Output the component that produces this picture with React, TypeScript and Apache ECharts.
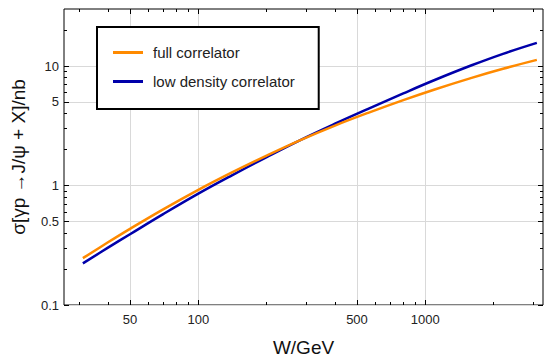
import React, { useEffect, useRef } from 'react';
import * as echarts from 'echarts';

// W in GeV
const W = [31, 40, 50, 70, 100, 140, 200, 280, 400, 560, 800, 1100, 1600, 2200, 3100];
// sigma in nb
const fullCorrelator = [0.2465, 0.3347, 0.4338, 0.6318, 0.9204, 1.281, 1.781, 2.39, 3.176, 4.058, 5.186, 6.364, 7.962, 9.484, 11.26];
const lowDensityCorrelator = [0.2228, 0.3018, 0.3911, 0.5762, 0.8551, 1.2118, 1.7288, 2.39, 3.287, 4.379, 5.9, 7.635, 10.14, 12.65, 15.62];

const xMajor = [50, 100, 500, 1000];
const xMinor = [30, 40, 60, 70, 80, 90, 200, 300, 400, 600, 700, 800, 900, 2000, 3000];
const yMajor = [0.1, 0.5, 1, 5, 10];
const yMinor = [0.2, 0.3, 0.4, 0.6, 0.7, 0.8, 0.9, 2, 3, 4, 6, 7, 8, 9, 20];

const X_MIN = 25.6;
const X_MAX = 3300;
const Y_MIN = 0.1;
const Y_MAX = 30;

const FONT = "'Liberation Sans', Arial, sans-serif";
const fmt = (v: number) => String(Number(Number(v).toPrecision(6)));

function tickAxis(kind: 'x' | 'y', position: string, values: number[], len: number, labels: boolean, extra: any = {}) {
  return {
    type: 'log',
    logBase: 10,
    min: kind === 'x' ? X_MIN : Y_MIN,
    max: kind === 'x' ? X_MAX : Y_MAX,
    position,
    axisLine: { show: false, onZero: false },
    axisTick: { show: true, inside: true, length: len, customValues: values, lineStyle: { color: '#000', width: 1 } },
    axisLabel: labels
      ? { show: true, customValues: values, formatter: fmt, fontSize: 13, color: '#222', fontFamily: FONT, margin: kind === 'x' ? 8 : 5 }
      : { show: false },
    splitLine: { show: false },
    minorTick: { show: false },
    minorSplitLine: { show: false },
    ...extra,
  };
}

export default function App() {
  const ref = useRef<HTMLDivElement>(null);
  useEffect(() => {
    if (!ref.current) return;
    const chart = echarts.init(ref.current, undefined, { renderer: 'svg' });
    const pts = (ys: number[]) => W.map((w, i) => [w, ys[i]]);
    chart.setOption({
      animation: false,
      backgroundColor: '#fff',
      grid: {
        left: 64, right: 1, top: 9, bottom: 52,
        containLabel: false,
        outerBoundsMode: 'none',
        show: true, borderColor: '#000', borderWidth: 1, backgroundColor: 'transparent',
      },
      xAxis: [
        tickAxis('x', 'bottom', xMajor, 5, true, {
          splitLine: { show: true, lineStyle: { color: '#d9d9d9', width: 1 } },
          name: 'W/GeV',
          nameLocation: 'middle',
          nameGap: 33,
          nameTextStyle: { fontSize: 19, color: '#111', fontFamily: FONT },
        }),
        tickAxis('x', 'bottom', xMinor, 3, false),
        tickAxis('x', 'top', xMajor, 5, false),
        tickAxis('x', 'top', xMinor, 3, false),
      ],
      yAxis: [
        tickAxis('y', 'left', yMajor, 5, true, {
          splitLine: { show: true, lineStyle: { color: '#d9d9d9', width: 1 } },
          name: 'σ[γp →J/ψ + X]/nb',
          nameLocation: 'middle',
          nameGap: 36,
          nameTextStyle: { fontSize: 19, color: '#111', fontFamily: FONT },
        }),
        tickAxis('y', 'left', yMinor, 3, false),
        tickAxis('y', 'right', yMajor, 5, false),
        tickAxis('y', 'right', yMinor, 3, false),
      ],
      legend: {
        orient: 'vertical',
        left: 97,
        top: 27,
        padding: [18, 24, 20, 16],
        itemGap: 14,
        itemWidth: 30,
        itemHeight: 3,
        icon: 'rect',
        borderColor: '#000',
        borderWidth: 2,
        backgroundColor: '#fff',
        textStyle: { fontSize: 15, color: '#222', fontFamily: FONT, padding: [0, 0, 0, 5] },
        data: ['full correlator', 'low density correlator'],
      },
      series: [
        {
          name: 'full correlator',
          type: 'line',
          xAxisIndex: 0,
          yAxisIndex: 0,
          data: pts(fullCorrelator),
          smooth: 0.4,
          showSymbol: false,
          symbol: 'none',
          lineStyle: { color: '#ff8a00', width: 2.5 },
          itemStyle: { color: '#ff8a00' },
          z: 3,
        },
        {
          name: 'low density correlator',
          type: 'line',
          xAxisIndex: 0,
          yAxisIndex: 0,
          data: pts(lowDensityCorrelator),
          smooth: 0.4,
          showSymbol: false,
          symbol: 'none',
          lineStyle: { color: '#0000aa', width: 2.5 },
          itemStyle: { color: '#0000aa' },
          z: 2,
        },
      ],
    });
    return () => chart.dispose();
  }, []);
  return <div ref={ref} style={{ position: 'fixed', left: 0, top: 0, width: 544, height: 357 }} />;
}
